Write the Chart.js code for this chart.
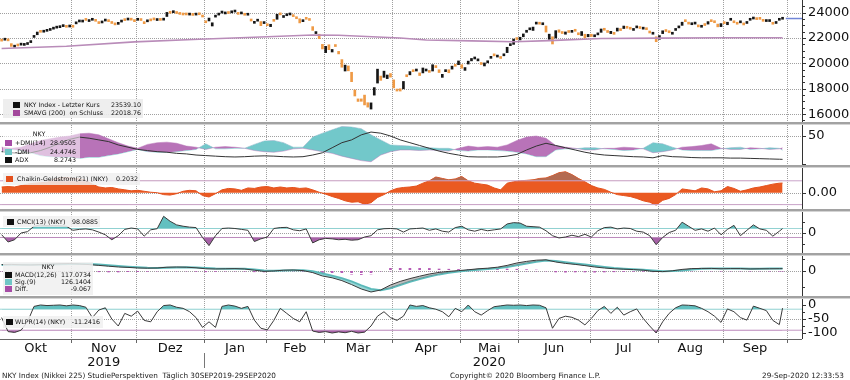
<!DOCTYPE html>
<html lang="de">
<head>
<meta charset="utf-8">
<title>NKY Index</title>
<script src="https://cdn.jsdelivr.net/npm/chart.js@4.4.1/dist/chart.umd.min.js"></script>
<style>
  html, body { margin:0; padding:0; background:#fff; }
  body { position:relative; width:850px; height:380px; overflow:hidden; font-family:'DejaVu Sans', sans-serif; }
  canvas { position:absolute; left:0; }
  .sep { position:absolute; left:0; width:850px; height:3px; background:linear-gradient(#a2a2a2 0, #a2a2a2 2px, #d4d4d4 2px); }
  .lg { position:absolute; font-size:6.3px; color:#111; white-space:pre; }
  .lg span { position:absolute; line-height:8px; height:8px; }
  .foot { position:absolute; top:372px; font-size:7.3px; line-height:8px; color:#222; white-space:pre; }
</style>
</head>
<body>
<script>
// ---------------- DATA ----------------
const months = ['Okt','Nov','Dez','Jan','Feb','Mär','Apr','Mai','Jun','Jul','Aug','Sep'];
const monthStartDays = [0,22,42,63,82,100,121,142,160,182,203,223,243];
const yearLabels = { 'Nov': '2019', 'Mai': '2020' };
const yearBoundaryDays = [63];

// daily closes (trading-day index 0 = 30 Sep 2019)
const closes = [
  21756,21886,21779,21342,21410,21375,21588,21456,21552,21799,22208,22473,22452,22493,22549,22625,22750,22800,22867,22974,22843,22927,
  22851,23251,23303,23330,23392,23332,23520,23320,23141,23303,23417,23292,23149,23038,23113,23293,23373,23438,23409,23294,
  23529,23380,23135,23300,23354,23430,23410,23391,23424,24023,23952,24066,23934,23864,23816,23821,23830,23782,23925,23837,23657,
  23205,23576,23204,23740,23851,24025,23917,23933,24041,24083,23865,24031,23795,23827,23344,23216,23379,22977,23205,
  22972,23085,23320,23874,23828,23686,23861,23828,23688,23523,23194,23400,23479,23387,22606,22427,21948,21143,
  21344,21083,21100,21329,20750,19699,19867,19416,18560,17431,17002,17012,16727,16553,16888,18092,19547,18665,19389,19084,18917,
  18066,17819,17820,18576,18950,19353,19346,19499,19044,19639,19551,19291,19897,19669,19281,19138,19429,19262,19784,19772,20194,
  19619,19674,20179,20390,20366,20267,19915,20037,20134,20433,20595,20552,20388,20742,21271,21419,21916,21878,
  22062,22325,22614,22695,22864,23178,23091,23125,22473,22305,21531,22582,22455,22356,22479,22437,22549,22534,22260,22513,21995,22289,
  22122,22146,22306,22714,22614,22439,22529,22291,22785,22588,22946,22770,22697,22717,22885,22751,22716,22657,22398,22339,21710,
  22196,22573,22514,22418,22330,22750,22843,23249,23289,23097,23051,23111,22880,22920,22985,23296,23290,23209,22883,23140,
  23138,23247,23465,23205,23089,23274,23033,23235,23406,23559,23454,23475,23319,23360,23346,23087,23204,23511,23539
];
const opens = [
  21810,21830,21860,21560,21280,21460,21440,21420,21490,21640,22050,22260,22500,22460,22530,22600,22700,22780,22820,22900,22880,22870,
  22890,23120,23270,23260,23450,23300,23400,23380,23250,23190,23340,23440,23200,23100,23080,23260,23400,23420,23430,23370,
  23400,23450,23150,23280,23370,23470,23380,23420,23410,23700,23960,24000,24050,23910,23830,23840,23810,23820,23810,23940,23790,
  23320,23350,22950,23650,23810,23970,23900,23940,23990,24050,24000,23900,23950,23800,23500,23160,23330,23300,23140,
  23020,22900,23370,23480,23950,23620,23760,23820,23790,23600,23520,23290,23520,23440,22900,22350,22300,21500,
  20850,21470,20900,21400,20950,20300,19400,19800,19300,17900,17200,17200,17500,16900,16400,17500,18450,19000,18900,18800,19200,
  18700,17900,18000,18000,19100,19100,19400,19400,19250,19250,19400,19300,19400,19700,19500,18900,19350,19500,19550,19900,19900,
  19900,19450,19950,20200,20350,20200,20000,19800,20050,20400,20600,20500,20450,20600,20850,21400,21500,22000,
  21850,22100,22450,22650,22600,23100,23200,23050,22950,21900,22100,22000,22650,22450,22300,22450,22450,22600,22400,22200,22300,22100,
  22300,22100,22250,22450,22700,22500,22350,22450,22550,22700,22750,22900,22700,22600,22800,22800,22700,22750,22550,22300,22100,
  21900,22350,22600,22500,22300,22600,22800,23000,23300,23150,23050,23100,23000,22850,23000,23100,23300,23250,23100,22900,
  23250,23050,23400,23250,23150,23200,23050,23150,23400,23500,23500,23500,23400,23300,23300,23200,23150,23400,23480
];
const lastPrice = 23539.10;

const smaDays = [0,20,41,61,82,96,104,123,131,145,158,169,185,203,222,241];
const smaValues = [21180,21350,21700,21900,22100,22240,22220,22000,21850,21780,21710,21800,21960,21990,22020,22019];

const priceLabelTicks = [16000,18000,20000,22000,24000];
const priceMinorTicks = [15500,16500,17000,17500,18500,19000,19500,20500,21000,21500,22500,23000,23500,24500];

// DMI / ADX / MACD: one reading every 3 trading days (last = final day)
const plusDMI = [30,28,30,36,42,45,48,50,54,55, 52,45,38,32,28,35,38,39,37,32, 30,26,30,31,30,28,24,22,21,23,
  27,28,25,22,19,14,10,6,4,16, 22,25,25,24,25,24,23,28,32,30, 31,30,34,42,48,50,46,33,30,28,
  25,25,28,28,30,29,27,20,22,25, 30,31,33,36,28,26,26,29,28,26, 27,28.95];
const minusDMI = [22,26,24,20,15,13,12,12,10,12, 12,15,18,22,26,22,21,21,22,24, 26,36,27,27,28,28,35,41,42,38,
  30,30,48,55,61,67,66,63,52,43, 34,33,32,30,29,28,28,24,23,25, 25,24,23,21,18,13,13,25,27,27,
  29,29,27,26,24,25,28,38,36,30, 25,24,24,24,27,29,30,26,27,29, 28,24.47];
const adx = [22,20,19,20,24,30,38,44,48,46, 43,40,34,30,26,24,22,21,19,18, 16,15,14,13,12.5,13,14,14.5,14,13,
  12.5,13,16,20,29,38,43,52,57,55, 50,43,38,33,28,23,19,16,13,12.5, 12.5,12.5,14,17,25,32,37,33,29,25,
  21,18,16,15,14,13,12.5,11,15,13, 12.5,11.5,11,11,11,10.5,10.5,10,9.5,9, 8.5,8.27];
const macd = [320,330,310,300,320,340,360,370,350,320, 280,240,200,180,150,140,150,190,200,190, 160,110,100,110,120,100,40,-20,0,40,
  50,20,-80,-250,-340,-480,-680,-900,-1050,-950, -700,-520,-380,-260,-150,-70,-20,20,60,110, 140,190,280,400,480,540,560,450,380,330,
  270,200,150,110,90,70,40,-20,-30,10, 80,120,130,130,110,120,120,100,110,110, 115,117.07];
const macdSignal = [300,315,315,310,312,320,335,350,355,345, 320,290,250,215,185,160,150,160,180,190, 180,150,125,115,115,110,80,30,10,20,
  35,35,-10,-130,-240,-360,-520,-720,-900,-960, -860,-700,-540,-400,-280,-170,-90,-30,20,60, 100,140,200,290,380,460,520,500,440,380,
  320,260,200,150,115,90,60,20,-10,-5, 30,80,110,125,120,120,120,110,110,120, 124,126.14];
const macdDiff = [20,15,-5,-10,8,20,25,20,-5,-25, -40,-50,-50,-35,-35,-20,0,30,20,0, -20,-40,-25,-5,5,-10,-40,-50,-10,20,
  15,-15,-70,-120,-100,-120,-160,-180,-150,10, 160,180,160,140,130,100,90,80,80,90, 90,100,100,90,70,50,30,-50,-60,-50,
  -50,-60,-50,-40,-25,-20,-20,-40,-20,15, 50,40,20,5,-10,0,0,-10,0,-10, -9,-9.07];

// Chaikin / CMCI / WLPR: one reading every 2 trading days (last = final day)
const chaikin = [0.12,0.13,0.12,0.15,0.18,0.2,0.21,0.22,0.28,0.31, 0.32,0.3,0.29,0.26,0.18,0.12,0.1,0.11,0.08,0.06,
  0.04,0.05,0.03,0.01,0.0,-0.04,-0.05,-0.02,0.03,0.05, 0.04,-0.06,-0.09,-0.02,0.06,0.09,0.08,0.05,0.1,0.09,
  0.12,0.13,0.1,0.12,0.1,0.11,0.09,0.1,0.06,0.01, -0.03,-0.08,-0.12,-0.17,-0.2,-0.19,-0.24,-0.21,-0.1,-0.04,
  0.04,0.09,0.11,0.12,0.14,0.2,0.25,0.33,0.3,0.27, 0.29,0.34,0.25,0.2,0.18,0.16,0.1,0.06,0.2,0.23,
  0.25,0.26,0.27,0.3,0.31,0.36,0.42,0.44,0.38,0.3, 0.23,0.15,0.1,0.07,0.01,-0.04,-0.06,-0.08,-0.12,-0.17,
  -0.2,-0.26,-0.16,-0.12,-0.04,0.08,0.06,0.04,0.1,0.08, 0.02,0.04,0.13,0.09,0.03,0.06,0.1,0.12,0.15,0.18, 0.2,0.2032];
const cmci = [-37,-200,-150,0,30,150,180,160,165,160, 150,60,80,90,70,20,-40,-150,-60,80,
  110,90,-70,70,95,370,260,180,150,130, 120,-100,-280,-60,100,110,100,80,60,-190,
  -130,-90,100,120,125,70,50,90,-220,-150, -120,-130,-150,-140,-160,-150,-90,-60,70,95,
  100,90,20,90,100,110,60,90,40,20, 120,150,70,40,80,50,70,90,200,230,
  220,150,140,130,50,-60,-110,-90,-50,-80, -30,-90,50,120,130,90,110,100,40,20,
  -60,-260,-100,10,60,240,150,60,90,40, 110,-40,80,170,-60,60,180,90,60,-70, 40,98.09];
const wlpr = [-45,-95,-98,-90,-60,-5,0,-2,-1,0, -3,0,-2,-8,-45,-18,-10,-50,-75,-30,
  -40,-22,-55,-60,-24,-2,0,-8,-12,-24, -45,-80,-60,-80,-5,0,-4,-12,-5,-54,
  -83,-89,-55,-12,-30,-48,-60,-24,-93,-98, -95,-100,-96,-99,-94,-100,-97,-75,-40,-24,
  -45,-55,-40,0,-5,-2,-10,-15,-24,-42, -12,-24,0,-24,-36,-20,-6,-3,0,-1,
  0,-2,0,-1,-10,-83,-48,-40,-44,-54, -71,-48,-20,-5,-30,-8,-36,-24,-14,-48,
  -75,-100,-60,-30,-10,0,-1,-3,-12,-24, -40,-62,-14,-24,-45,-54,-4,-12,-20,-55, -70,-11.24];

const chaikinLevels = [0.25, -0.25];
const cmciLevels = [100, -100];
const wlprLevels = [-15, -90];

// ---------------- LAYOUT ----------------
Chart.defaults.font.family = "'DejaVu Sans', sans-serif";
Chart.defaults.font.size = 13;
Chart.defaults.color = '#111';

const W = 850, AXIS_W = 48, X_MIN = -0.5, X_MAX = 247;
const lastDay = closes.length - 1;
const step3Days = plusDMI.map((_, i) => Math.min(i * 3, lastDay));
const step2Days = chaikin.map((_, i) => Math.min(i * 2, lastDay));
const pts = (days, vals) => vals.map((v, i) => ({ x: days[i], y: v }));
const hline = (v) => [{ x: X_MIN, y: v }, { x: X_MAX, y: v }];

const GRID = '#a0a0a0';
const PURPLE = '#b873b8', TEAL = '#72c8ca', LINE = '#3a3a3a';

// dotted purple pattern for the MACD difference bars
const patCanvas = document.createElement('canvas');
patCanvas.width = 2; patCanvas.height = 3;
const pctx = patCanvas.getContext('2d');
pctx.fillStyle = '#b65cb6'; pctx.fillRect(0, 0, 2, 2);
const diffPattern = pctx.createPattern(patCanvas, 'repeat');

// pixel of a value on a chart scale (with a fallback on the scale's own extent)
function pix(scale, v) {
  let p = scale.getPixelForValue(v);
  if (!isFinite(p)) {
    const hz = scale.isHorizontal();
    const f = (v - scale.min) / (scale.max - scale.min);
    p = hz ? scale.left + f * scale.width : scale.bottom - f * scale.height;
  }
  return Math.round(p);
}

// dotted grid, axis line and tick marks, placed from the chart's own scales
const panelGrid = {
  id: 'panelGrid',
  beforeDatasetsDraw(chart, args, opts) {
    const { ctx, chartArea: a } = chart;
    const xs = chart.scales.x, ys = chart.scales.y;
    ctx.save();
    ctx.fillStyle = GRID;
    monthStartDays.slice(1).forEach(d => {
      const px = pix(xs, d - 0.5);
      for (let y = Math.ceil(a.top); y < a.bottom; y += 2) ctx.fillRect(px, y, 1, 1);
    });
    (opts.yLines || []).forEach(v => {
      const py = pix(ys, v);
      for (let x = Math.ceil(a.left); x < a.right; x += 2) ctx.fillRect(x, py, 1, 1);
    });
    ctx.restore();
  },
  afterDraw(chart, args, opts) {
    const { ctx, chartArea: a } = chart;
    const xs = chart.scales.x, ys = chart.scales.y;
    ctx.save();
    ctx.fillStyle = '#333';
    const ax = Math.round(a.right);
    ctx.fillRect(ax, Math.floor(a.top), 1, Math.ceil(a.bottom - a.top));
    (opts.yTicks || []).forEach(v => {
      const py = pix(ys, v);
      const len = (opts.yMajor || []).includes(v) ? 4 : 3;
      ctx.fillRect(ax, py, len, 1);
    });
    if (opts.axis) {
      ctx.fillStyle = '#666';
      const by = Math.round(a.bottom);
      ctx.fillRect(Math.floor(a.left), by, Math.ceil(a.right - a.left), 1);
      monthStartDays.slice(1).forEach(d => ctx.fillRect(pix(xs, d - 0.5), by, 1, 4));
    }
    ctx.restore();
  }
};

function makeCanvas(top, h) {
  const c = document.createElement('canvas');
  c.width = W; c.height = h;
  c.style.top = top + 'px';
  document.body.appendChild(c);
  return c;
}

function xScale(bottomAxis) {
  return {
    type: 'linear', axis: 'x', position: 'bottom', min: X_MIN, max: X_MAX, offset: false,
    afterBuildTicks: s => { s.ticks = monthStartDays.slice(1).map(d => ({ value: d - 0.5 })); },
    ticks: { display: false, autoSkip: false },
    grid: { display: false, offset: false, drawTicks: false },
    border: { display: false },
    afterFit: s => { s.height = bottomAxis ? 4 : 0.01; s.paddingLeft = 0; s.paddingRight = 0; }
  };
}

function yScale(min, max, tickVals, labelVals, fmt) {
  return {
    type: 'linear', position: 'right', min, max,
    afterBuildTicks: s => { s.ticks = tickVals.map(v => ({ value: v })); },
    afterFit: s => { s.width = AXIS_W; s.paddingTop = 0; s.paddingBottom = 0; },
    ticks: {
      autoSkip: false, padding: 6, color: '#111', font: { size: 13 },
      callback: v => labelVals.includes(v) ? (fmt ? fmt(v) : String(v)) : ''
    },
    grid: { display: false, drawTicks: false },
    border: { display: false }
  };
}

function baseOptions(scales, gridOpts) {
  return {
    responsive: false, animation: false, events: [],
    layout: { padding: 0 },
    plugins: { legend: { display: false }, tooltip: { enabled: false }, panelGrid: gridOpts },
    elements: { point: { radius: 0 }, line: { tension: 0 } },
    scales
  };
}

// separators
[122, 165, 209, 253, 296].forEach(y => {
  const d = document.createElement('div'); d.className = 'sep'; d.style.top = y + 'px';
  document.body.appendChild(d);
});

// ---------- Panel 1: price ----------
new Chart(makeCanvas(0, 122), {
  type: 'bar',
  data: { datasets: [
    { type: 'line', data: [{ x: lastDay + 1, y: lastPrice }, { x: X_MAX, y: lastPrice }], borderColor: '#7186d8', borderWidth: 1.5, pointRadius: 0, order: 0 },
    { type: 'line', data: pts(smaDays, smaValues), borderColor: '#b98cb9', borderWidth: 1.6, pointRadius: 0, order: 1 },
    { type: 'bar', data: closes.map((c, i) => ({ x: i, y: [opens[i], c] })),
      backgroundColor: c => (c.raw && c.raw.y[1] >= c.raw.y[0]) ? '#161616' : '#ef9a45',
      barThickness: 2, minBarLength: 2, order: 2 }
  ]},
  options: baseOptions({
    x: xScale(false),
    y: yScale(15380, 25000, priceLabelTicks.concat(priceMinorTicks), priceLabelTicks)
  }, { yLines: priceLabelTicks, yTicks: priceLabelTicks.concat(priceMinorTicks), yMajor: priceLabelTicks }),
  plugins: [panelGrid]
});

// ---------- Panel 2: DMI ----------
new Chart(makeCanvas(125, 40), {
  type: 'line',
  data: { datasets: [
    { data: pts(step3Days, plusDMI), borderColor: 'rgba(184,115,184,0.8)', borderWidth: 0.6, order: 1,
      fill: { target: 1, above: PURPLE, below: TEAL } },
    { data: pts(step3Days, minusDMI), borderColor: 'rgba(114,200,202,0.8)', borderWidth: 0.6, order: 2, fill: false },
    { data: pts(step3Days, adx), borderColor: '#333', borderWidth: 1, order: 0, fill: false }
  ]},
  options: baseOptions({ x: xScale(false), y: yScale(-1.8, 69.6, [0, 50], [50]) },
    { yLines: [50], yTicks: [0, 50], yMajor: [0, 50] }),
  plugins: [panelGrid]
});

// ---------- Panel 3: Chaikin ----------
new Chart(makeCanvas(168, 41), {
  type: 'line',
  data: { datasets: [
    { data: hline(chaikinLevels[0]), borderColor: '#c9a3c9', borderWidth: 1, order: 0, fill: false },
    { data: hline(chaikinLevels[1]), borderColor: '#c9a3c9', borderWidth: 1, order: 0, fill: false },
    { data: pts(step2Days, chaikin), borderWidth: 0, order: 1,
      fill: { target: { value: chaikinLevels[0] }, above: '#b46a50', below: 'rgba(0,0,0,0)' } },
    { data: pts(step2Days, chaikin), borderWidth: 0, order: 1,
      fill: { target: { value: chaikinLevels[1] }, above: 'rgba(0,0,0,0)', below: '#b4584a' } },
    { data: pts(step2Days, chaikin), borderColor: '#e4501c', borderWidth: 1, order: 2,
      fill: { target: 'origin', above: '#ea5a22', below: '#ea5a22' } }
  ]},
  options: baseOptions({ x: xScale(false), y: yScale(-0.342, 0.519, [0], [0], v => v.toFixed(2)) },
    { yLines: [0], yTicks: [0], yMajor: [0] }),
  plugins: [panelGrid]
});

// ---------- Panel 4: CMCI ----------
new Chart(makeCanvas(212, 41), {
  type: 'line',
  data: { datasets: [
    { data: pts(step2Days, cmci), borderColor: LINE, borderWidth: 1, order: 0, fill: false },
    { data: pts(step2Days, cmci), borderWidth: 0, order: 1,
      fill: { target: { value: cmciLevels[0] }, above: '#62c0c0', below: 'rgba(0,0,0,0)' } },
    { data: pts(step2Days, cmci), borderWidth: 0, order: 1,
      fill: { target: { value: cmciLevels[1] }, above: 'rgba(0,0,0,0)', below: '#a862a8' } },
    { data: hline(cmciLevels[0]), borderColor: '#9fd7d7', borderWidth: 1, order: 2, fill: false },
    { data: hline(cmciLevels[1]), borderColor: '#c296c2', borderWidth: 1, order: 2, fill: false }
  ]},
  options: baseOptions({ x: xScale(false), y: yScale(-444, 466, [-250, 0, 250], [0]) },
    { yLines: [0], yTicks: [-250, 0, 250], yMajor: [0] }),
  plugins: [panelGrid]
});

// ---------- Panel 5: MACD ----------
new Chart(makeCanvas(256, 40), {
  type: 'line',
  data: { datasets: [
    { data: pts(step3Days, macd), borderColor: LINE, borderWidth: 1, order: 0,
      fill: { target: 1, above: 'rgba(110,110,110,0.45)', below: 'rgba(98,192,192,0.65)' } },
    { data: pts(step3Days, macdSignal), borderColor: '#5cbdbd', borderWidth: 2, order: 1, fill: false },
    { type: 'bar', data: pts(step3Days, macdDiff), backgroundColor: diffPattern, barThickness: 2, order: 2 }
  ]},
  options: baseOptions({ x: xScale(false), y: yScale(-1250, 750, [-800, 0, 600], [0]) },
    { yLines: [0], yTicks: [-800, 0, 600], yMajor: [0] }),
  plugins: [panelGrid]
});

// ---------- Panel 6: WLPR + date axis ----------
const yearDivider = {
  id: 'yearDivider',
  afterDraw(chart) {
    const s = chart.scales.xl; if (!s) return;
    const ctx = chart.ctx;
    yearBoundaryDays.forEach(d => {
      const px = pix(s, d - 0.5);
      ctx.save(); ctx.fillStyle = '#777';
      ctx.fillRect(px, Math.round(s.top + 10), 1, 15);
      ctx.restore();
    });
  }
};
new Chart(makeCanvas(299, 74), {
  type: 'line',
  data: { datasets: [
    { data: pts(step2Days, wlpr), borderColor: LINE, borderWidth: 1, order: 0, fill: false },
    { data: pts(step2Days, wlpr), borderWidth: 0, order: 1,
      fill: { target: { value: wlprLevels[0] }, above: '#62c0c0', below: 'rgba(0,0,0,0)' } },
    { data: pts(step2Days, wlpr), borderWidth: 0, order: 1,
      fill: { target: { value: wlprLevels[1] }, above: 'rgba(0,0,0,0)', below: '#a862a8' } },
    { data: hline(wlprLevels[0]), borderColor: '#9fd7d7', borderWidth: 1, order: 2, fill: false },
    { data: hline(wlprLevels[1]), borderColor: '#c296c2', borderWidth: 1, order: 2, fill: false }
  ]},
  options: baseOptions({
    x: xScale(true),
    xl: {
      type: 'linear', axis: 'x', position: 'bottom', weight: 1, min: X_MIN, max: X_MAX, offset: false,
      afterBuildTicks: s => { s.ticks = months.map((m, i) => ({ value: (monthStartDays[i] + monthStartDays[i + 1]) / 2 - 0.5 })); },
      ticks: {
        autoSkip: false, maxRotation: 0, color: '#111', padding: -2,
        font: { size: 13, lineHeight: 1.1 },
        callback: (v, i) => yearLabels[months[i]] ? [months[i], yearLabels[months[i]]] : months[i]
      },
      grid: { display: false, drawTicks: false, offset: false },
      border: { display: false },
      afterFit: s => { s.height = 30; s.paddingLeft = 0; s.paddingRight = 0; }
    },
    y: yScale(-121.4, 21.4, [0, -25, -50, -75, -100], [0, -50, -100])
  }, { yLines: [-50], yTicks: [0, -25, -50, -75, -100], yMajor: [0, -50, -100], axis: true }),
  plugins: [panelGrid, yearDivider]
});

// ---------------- LEGENDS ----------------
function addLegend(cfg) {
  const box = document.createElement('div');
  box.className = 'lg';
  Object.assign(box.style, { left: cfg.x + 'px', top: cfg.y + 'px', width: cfg.w + 'px', height: cfg.h + 'px', background: cfg.bg });
  document.body.appendChild(box);
  const span = (text, cy) => {
    const s = document.createElement('span');
    s.textContent = text; s.style.top = (cy - cfg.y - 4) + 'px';
    box.appendChild(s); return s;
  };
  if (cfg.header) {
    const s = span(cfg.header.t, cfg.header.cy);
    s.style.left = '0px'; s.style.width = ((cfg.header.cx - cfg.x) * 2) + 'px'; s.style.textAlign = 'center';
  }
  cfg.rows.forEach(r => {
    const sq = document.createElement('span');
    Object.assign(sq.style, { left: (cfg.sqx - cfg.x) + 'px', top: (r.cy - cfg.y - 3) + 'px', width: '7px', height: '6px', background: r.c });
    box.appendChild(sq);
    span(r.t, r.cy).style.left = (cfg.lx - cfg.x) + 'px';
    span(r.v, r.cy).style.right = (cfg.x + cfg.w - cfg.vx) + 'px';
  });
}
addLegend({ x: 3, y: 99, w: 140, h: 19, bg: 'rgba(236,236,236,0.9)', sqx: 13, lx: 24, vx: 141,
  rows: [ { c: '#111', t: 'NKY Index - Letzter Kurs', v: '23539.10', cy: 104.5 },
          { c: '#a3489c', t: 'SMAVG (200)  on Schluss', v: '22018.76', cy: 113 } ] });
addLegend({ x: 3, y: 128, w: 77, h: 36, bg: 'rgba(255,255,255,0.55)', sqx: 5, lx: 15, vx: 76,
  header: { t: 'NKY', cx: 39, cy: 134 },
  rows: [ { c: '#a64ca6', t: '+DMI(14)', v: '28.9505', cy: 143 },
          { c: '#6fc6c6', t: '-DMI', v: '24.4746', cy: 151.5 },
          { c: '#111', t: 'ADX', v: '8.2743', cy: 160 } ] });
addLegend({ x: 3, y: 173, w: 137, h: 12, bg: 'rgba(240,240,240,0.85)', sqx: 6, lx: 17, vx: 138,
  rows: [ { c: '#e4501c', t: 'Chaikin-Geldstrom(21) (NKY)', v: '0.2032', cy: 179 } ] });
addLegend({ x: 3, y: 216, w: 97, h: 11, bg: 'rgba(240,240,240,0.85)', sqx: 7, lx: 17, vx: 98,
  rows: [ { c: '#111', t: 'CMCI(13) (NKY)', v: '98.0885', cy: 222 } ] });
addLegend({ x: 3, y: 262, w: 90, h: 33, bg: 'rgba(240,240,240,0.85)', sqx: 5, lx: 15, vx: 91,
  header: { t: 'NKY', cx: 48, cy: 266.5 },
  rows: [ { c: '#111', t: 'MACD(12,26)', v: '117.0734', cy: 274.5 },
          { c: '#6fc6c6', t: 'Sig.(9)', v: '126.1404', cy: 282 },
          { c: '#a64ca6', t: 'Diff.', v: '-9.067', cy: 289 } ] });
addLegend({ x: 3, y: 316, w: 100, h: 12, bg: 'rgba(240,240,240,0.85)', sqx: 6, lx: 15, vx: 100,
  rows: [ { c: '#111', t: 'WLPR(14) (NKY)', v: '-11.2416', cy: 322 } ] });

// ---------------- FOOTER ----------------
[[2, 'NKY Index (Nikkei 225) StudiePerspektiven  Täglich 30SEP2019-29SEP2020'],
 [450, 'Copyright© 2020 Bloomberg Finance L.P.'],
 [762, '29-Sep-2020 12:33:53']].forEach(([x, t]) => {
  const d = document.createElement('div'); d.className = 'foot';
  d.style.left = x + 'px'; d.textContent = t; document.body.appendChild(d);
});
</script>
</body>
</html>
